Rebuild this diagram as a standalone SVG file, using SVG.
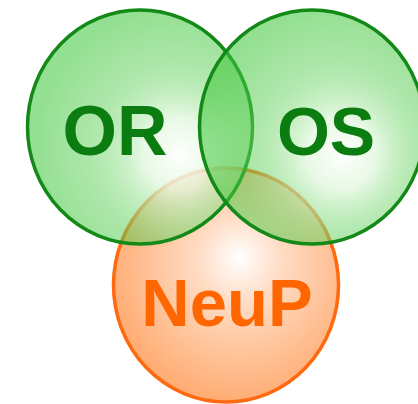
<svg xmlns="http://www.w3.org/2000/svg" width="418" height="404" viewBox="0 0 418 404">
  <defs>
    <radialGradient id="gLeft" cx="0.64" cy="0.6" r="0.6" fx="0.68" fy="0.62">
      <stop offset="0" stop-color="#ffffff" stop-opacity="0.95"/>
      <stop offset="0.25" stop-color="#e4f8e0" stop-opacity="0.8"/>
      <stop offset="0.7" stop-color="#52cc4c" stop-opacity="0.5"/>
      <stop offset="1" stop-color="#3cc638" stop-opacity="0.55"/>
    </radialGradient>
    <radialGradient id="gRight" cx="0.6" cy="0.6" r="0.6" fx="0.64" fy="0.62">
      <stop offset="0" stop-color="#ffffff" stop-opacity="0.95"/>
      <stop offset="0.25" stop-color="#e4f8e0" stop-opacity="0.8"/>
      <stop offset="0.7" stop-color="#52cc4c" stop-opacity="0.5"/>
      <stop offset="1" stop-color="#3cc638" stop-opacity="0.55"/>
    </radialGradient>
    <radialGradient id="gOrange" cx="0.56" cy="0.42" r="0.62" fx="0.56" fy="0.38">
      <stop offset="0" stop-color="#ffffff"/>
      <stop offset="0.3" stop-color="#ffdcc4"/>
      <stop offset="1" stop-color="#ffa86c"/>
    </radialGradient>
    <style>
      .lbl { font-family: "Liberation Sans", Arial, sans-serif; font-weight: bold; }
      .green { stroke: #138a18; stroke-width: 3.5; }
      .orange { stroke: #ff6a10; stroke-width: 3.5; }
    </style>
  </defs>
  <rect width="418" height="404" fill="#ffffff"/>
  <g id="node-neup">
    <ellipse cx="226" cy="285" rx="112.5" ry="117" fill="url(#gOrange)" class="orange"/>
    <text class="lbl" x="227" y="326" font-size="67" fill="#ff6600" text-anchor="middle">NeuP</text>
  </g>
  <g id="node-or">
    <ellipse cx="140" cy="127" rx="112.5" ry="117" fill="url(#gLeft)" class="green"/>
    <text class="lbl" x="115" y="155" font-size="70" fill="#0b7c10" text-anchor="middle">OR</text>
  </g>
  <g id="node-os">
    <ellipse cx="312" cy="127" rx="112.5" ry="117" fill="url(#gRight)" class="green"/>
    <text class="lbl" x="326" y="155" font-size="68" fill="#0b7c10" text-anchor="middle">OS</text>
  </g>
  <g id="connectors"/>
</svg>
